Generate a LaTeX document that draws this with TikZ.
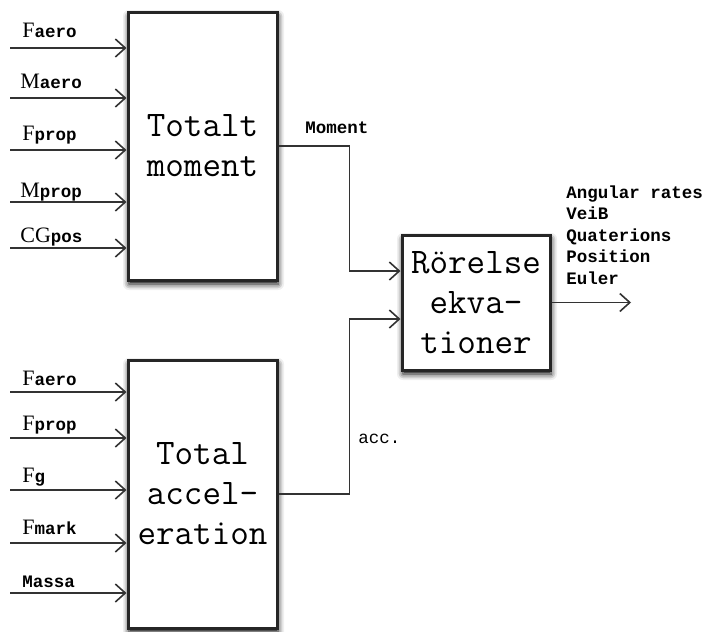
\documentclass[tikz,border=0pt]{standalone}
\usepackage{fontspec}
\setmainfont{Liberation Serif}
\setmonofont{Liberation Mono}
\newfontfamily\blockfont{Latin Modern Mono}
\usetikzlibrary{arrows.meta,shadows.blur}

% signal name: big serif letter, small typewriter index on the baseline
\newcommand{\signame}[2]{{\fontsize{11}{12}\selectfont #1}{\ttfamily\bfseries\fontsize{8.75}{10}\selectfont #2}}

\tikzset{
  block/.style={draw=black!85, line width=1.5pt, fill=white, align=center,
    font=\blockfont\fontsize{18}{20}\selectfont,
    blur shadow={shadow xshift=0.5pt, shadow yshift=-2pt, shadow blur radius=3pt, shadow opacity=100}},
  sig/.style={draw=black!80, line width=0.8pt, -{Straight Barb[length=5pt,width=9pt]}},
  inlbl/.style={anchor=base west, inner sep=0pt},
  txt/.style={inner sep=0pt, font=\ttfamily\bfseries\fontsize{8.75}{10.75}\selectfont}
}

\begin{document}
\begin{tikzpicture}[x=0.5pt, y=-0.5pt]
	\useasboundingbox (0,0) rectangle (707,632);

	% blocks
	\node[block, minimum width=74.5pt, minimum height=134pt] (tm) at (202.5,146) {Totalt\\moment};
	\node[block, minimum width=74.5pt, minimum height=134pt] (ta) at (202.5,494) {Total\\accel-\\eration};
	\node[block, minimum width=74pt, minimum height=67.5pt] (re) at (476,302.5) {Rörelse\\ekva-\\tioner};

	% inputs, moment block
	\coordinate (i1) at (10,48);
	\coordinate (i2) at (10,98);
	\coordinate (i3) at (10,150);
	\coordinate (i4) at (10,202);
	\coordinate (i5) at (10,248);
	\node[inlbl] (l1) at (22,37) {\signame{F}{aero}};
	\node[inlbl] (l2) at (20,88) {\signame{M}{aero}};
	\node[inlbl] (l3) at (22,140) {\signame{F}{prop}};
	\node[inlbl] (l4) at (20,197) {\signame{M}{prop}};
	\node[inlbl] (l5) at (20,242) {\signame{CG}{pos}};
	\draw[sig] (i1) -- (i1 -| tm.west);
	\draw[sig] (i2) -- (i2 -| tm.west);
	\draw[sig] (i3) -- (i3 -| tm.west);
	\draw[sig] (i4) -- (i4 -| tm.west);
	\draw[sig] (i5) -- (i5 -| tm.west);

	% inputs, acceleration block
	\coordinate (j1) at (10,392);
	\coordinate (j2) at (10,438);
	\coordinate (j3) at (10,490);
	\coordinate (j4) at (10,543);
	\coordinate (j5) at (10,593);
	\node[inlbl] (k1) at (22,385) {\signame{F}{aero}};
	\node[inlbl] (k2) at (22,430) {\signame{F}{prop}};
	\node[inlbl] (k3) at (22,482) {\signame{F}{g}};
	\node[inlbl] (k4) at (22,534) {\signame{F}{mark}};
	\node[inlbl, font=\ttfamily\bfseries\fontsize{8.75}{10}\selectfont] (k5) at (22,587) {Massa};
	\draw[sig] (j1) -- (j1 -| ta.west);
	\draw[sig] (j2) -- (j2 -| ta.west);
	\draw[sig] (j3) -- (j3 -| ta.west);
	\draw[sig] (j4) -- (j4 -| ta.west);
	\draw[sig] (j5) -- (j5 -| ta.west);

	% into the equations of motion
	\coordinate (mom) at ([yshift=15.75pt]re.west);
	\coordinate (acc) at ([yshift=-8.25pt]re.west);
	\draw[sig] (tm.east) -- ++(71,0) |- (mom);
	\draw[sig] (ta.east) -- ++(71,0) |- (acc);
	\node[txt, anchor=west] (mlbl) at (305,128) {Moment};
	\node[txt, anchor=west, font=\ttfamily\fontsize{8.75}{10}\selectfont] (albl) at (358,439) {acc.};

	% outputs
	\coordinate (out) at (631,301);
	\draw[sig] (re.east) -- (re.east -| out);
	\node[txt, anchor=north west, align=left] (olbl) at (566,185) {Angular rates\\VeiB\\Quaterions\\Position\\Euler};
\end{tikzpicture}
\end{document}
